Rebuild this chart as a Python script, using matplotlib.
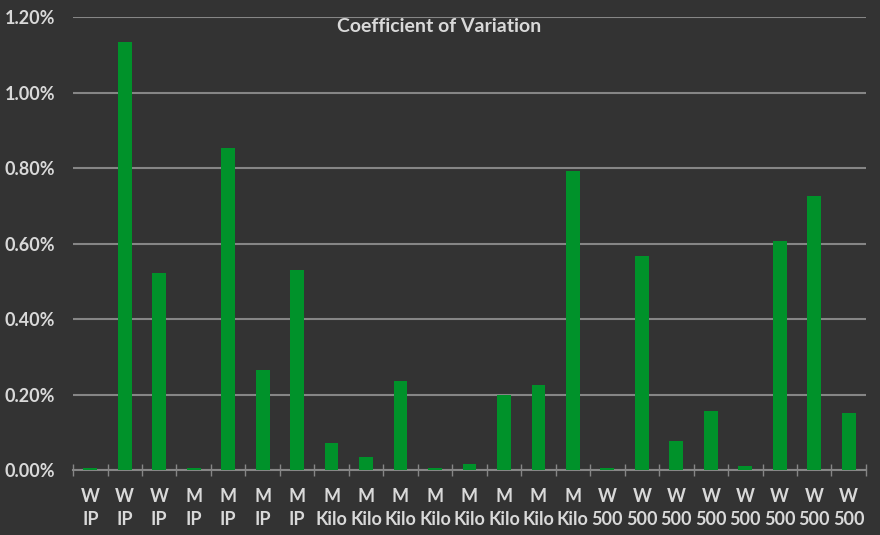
import matplotlib
matplotlib.use('Agg')
import matplotlib.pyplot as plt
import matplotlib.ticker as ticker
import numpy as np

groups = ['W', 'W', 'W', 'M', 'M', 'M', 'M', 'M', 'M', 'M', 'M', 'M', 'M', 'M', 'M',
          'W', 'W', 'W', 'W', 'W', 'W', 'W', 'W']
kinds = ['IP'] * 7 + ['Kilo'] * 8 + ['500'] * 8
cv_pct = [0.005, 1.134, 0.522, 0.004, 0.853, 0.265, 0.530, 0.072, 0.034, 0.236, 0.004,
          0.016, 0.199, 0.225, 0.792, 0.004, 0.567, 0.077, 0.156, 0.011, 0.607, 0.726, 0.151]

theme = {
    'bg': '#333333',
    'bar': '#00922a',
    'grid': '#868686',
    'text': '#d9d9d9',
}

plt.rcParams['font.family'] = ['Lato', 'DejaVu Sans']

fig = plt.figure(figsize=(8.8, 5.35), dpi=100, facecolor=theme['bg'])
ax = fig.add_axes([0.083, 0.1215, 0.901, 0.8465], facecolor=theme['bg'])

x = np.arange(len(cv_pct))
ax.bar(x, cv_pct, width=0.4, color=theme['bar'], zorder=3)

ax.set_xlim(-0.5, len(cv_pct) - 0.5)
ax.set_ylim(0, 1.2)
ax.yaxis.set_major_locator(ticker.MultipleLocator(0.2))
ax.yaxis.set_major_formatter(ticker.FuncFormatter(lambda v, p: f'{v:.2f}%'))
ax.grid(axis='y', color=theme['grid'], linewidth=1.5, zorder=0)

ax.set_xticks(x)
ax.set_xticklabels([f'{g}\n{k}' for g, k in zip(groups, kinds)])
ax.set_xticks(np.arange(-0.5, len(cv_pct)), minor=True)
ax.tick_params(axis='x', which='major', length=0, pad=13, labelsize=13,
               colors=theme['text'])
ax.tick_params(axis='x', which='minor', length=8, direction='inout',
               color=theme['grid'], width=1)
ax.tick_params(axis='y', length=0, pad=13, labelsize=13, colors=theme['text'])
for lbl in ax.get_xticklabels():
    lbl.set_fontweight('bold')
    lbl.set_linespacing(1.45)
for lbl in ax.get_yticklabels():
    lbl.set_fontweight('bold')

for spine in ['top', 'right', 'left']:
    ax.spines[spine].set_visible(False)
ax.spines['bottom'].set_color(theme['grid'])
ax.spines['bottom'].set_linewidth(1.5)

fig.text(0.499, 0.951, 'Coefficient of Variation', ha='center', va='center',
         color=theme['text'], fontsize=14, fontweight='bold')

fig.savefig('out.png', dpi=100, facecolor=theme['bg'])
plt.close(fig)
